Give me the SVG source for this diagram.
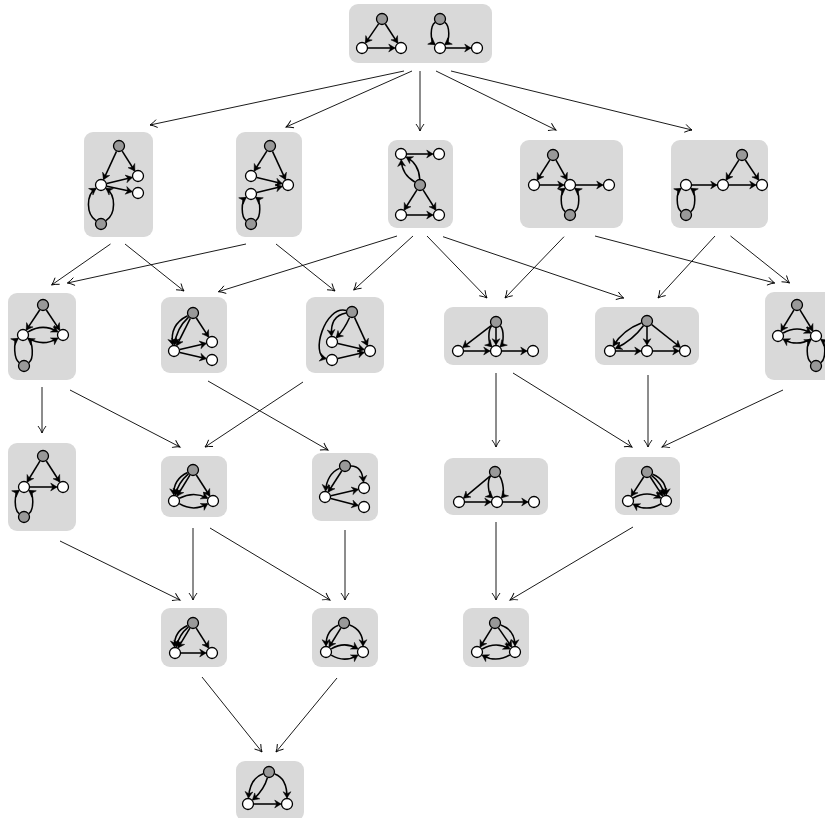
<svg xmlns="http://www.w3.org/2000/svg" width="825" height="818" viewBox="0 0 825 818">
<style>
.box{fill:#d9d9d9}
.e{fill:none;stroke:#000;stroke-width:1.55;marker-end:url(#h)}
.w{fill:#fff;stroke:#000;stroke-width:1.3}
.g{fill:#999;stroke:#000;stroke-width:1.3}
.c{fill:none;stroke:#000;stroke-width:0.9;marker-end:url(#v)}
</style>
<defs>
<marker id="h" markerUnits="userSpaceOnUse" markerWidth="14" markerHeight="14" viewBox="-7 -7 14 14" refX="0" refY="0" orient="auto" overflow="visible"><path d="M0.6,0L-5.8,-3.9L-3.8,0L-5.8,3.9Z" fill="#000" stroke="#000" stroke-width="0.5" stroke-linejoin="round"/></marker>
<marker id="v" markerUnits="userSpaceOnUse" markerWidth="12" markerHeight="12" viewBox="-10 -6 12 12" refX="0" refY="0" orient="auto" overflow="visible"><path d="M-7,-4Q-3,-1 0,0Q-3,1 -7,4" fill="none" stroke="#000" stroke-width="0.9"/></marker>
</defs>
<g id="connectors">
<path class="c" d="M404,71L150,125"/>
<path class="c" d="M412,71L286,127"/>
<path class="c" d="M420,71L420,131"/>
<path class="c" d="M436,71L556,130"/>
<path class="c" d="M451,71L692,130"/>
<path class="c" d="M110.5,244L51.6,285"/>
<path class="c" d="M125,244L184,291"/>
<path class="c" d="M246,244L67.4,283"/>
<path class="c" d="M276,244L335,291"/>
<path class="c" d="M397,236L218.4,291.7"/>
<path class="c" d="M413,236L353.7,290"/>
<path class="c" d="M427,236L487,298"/>
<path class="c" d="M443,236.7L623.7,298"/>
<path class="c" d="M564,236.7L505,298"/>
<path class="c" d="M595,236L774.7,283"/>
<path class="c" d="M715,236L658,298"/>
<path class="c" d="M730.5,236L789.5,283"/>
<path class="c" d="M42,387L42,433"/>
<path class="c" d="M70,390L180,447"/>
<path class="c" d="M303,382L205,447"/>
<path class="c" d="M208,381L328,450"/>
<path class="c" d="M496,373L496,447"/>
<path class="c" d="M513,373L632,447"/>
<path class="c" d="M648,375L648,447"/>
<path class="c" d="M783,390L662,447"/>
<path class="c" d="M60,541L180,600"/>
<path class="c" d="M193,528L193,600"/>
<path class="c" d="M210,528L330,600"/>
<path class="c" d="M345,530L345,600"/>
<path class="c" d="M496,522L496,600"/>
<path class="c" d="M633,527L510,600"/>
<path class="c" d="M202,677L262,752"/>
<path class="c" d="M337,678L276,752"/>
</g>
<g id="n0">
<rect class="box" x="349" y="4" width="143" height="59" rx="9"/>
<path class="e" d="M378.6,23.9L365.7,42.6"/>
<path class="e" d="M385.3,24L397.4,42.6"/>
<path class="e" d="M368,48L394.5,48"/>
<path class="e" d="M435.1,22.4C430,26 430,41 434.7,44.3"/>
<path class="e" d="M444.9,22.4C450,26 450,41 445.3,44.3"/>
<path class="e" d="M446,48L470.5,48"/>
<circle class="g" cx="382" cy="19" r="5.5"/><circle class="w" cx="362" cy="48" r="5.5"/><circle class="w" cx="401" cy="48" r="5.5"/>
<circle class="g" cx="440" cy="19" r="5.5"/><circle class="w" cx="440" cy="48" r="5.5"/><circle class="w" cx="477" cy="48" r="5.5"/>
</g>
<g id="n1a">
<rect class="box" x="84" y="132" width="69" height="105" rx="9"/>
<path class="e" d="M116.5,151.4L103.7,179.1"/>
<path class="e" d="M122.2,151.1L134.5,170.5"/>
<path class="e" d="M106.8,183.6L131.7,177.5"/>
<path class="e" d="M106.9,186.3L131.6,191.6"/>
<path class="e" d="M96,220.7C86,214 86,195 95.6,188.6"/>
<path class="e" d="M106,220.7C116,214 116,195 106.4,188.6"/>
<circle class="g" cx="119" cy="146" r="5.5"/><circle class="w" cx="138" cy="176" r="5.5"/><circle class="w" cx="138" cy="193" r="5.5"/><circle class="w" cx="101" cy="185" r="5.5"/><circle class="g" cx="101" cy="224" r="5.5"/>
</g>
<g id="n1b">
<rect class="box" x="236" y="132" width="66" height="105" rx="9"/>
<path class="e" d="M266.8,151.1L254.5,170.5"/>
<path class="e" d="M272.5,151.4L285.3,179.1"/>
<path class="e" d="M256.8,177.4L281.7,183.5"/>
<path class="e" d="M256.8,192.6L281.7,186.5"/>
<path class="e" d="M246.1,220.6C241,217 241,201 245.7,197.7"/>
<path class="e" d="M255.9,220.6C261,217 261,201 256.3,197.7"/>
<circle class="g" cx="270" cy="146" r="5.5"/><circle class="w" cx="251" cy="176" r="5.5"/><circle class="w" cx="251" cy="194" r="5.5"/><circle class="w" cx="288" cy="185" r="5.5"/><circle class="g" cx="251" cy="224" r="5.5"/>
</g>
<g id="n1c">
<rect class="box" x="388" y="140" width="65" height="88" rx="9"/>
<path class="e" d="M407,154L432.5,154"/>
<path class="e" d="M419.7,179Q419,164.3 406.6,157.2"/>
<path class="e" d="M414.8,182Q402,174.7 401.3,160.5"/>
<path class="e" d="M416.8,190.1L404.5,209.5"/>
<path class="e" d="M423.2,190.1L435.5,209.5"/>
<path class="e" d="M407,215L432.5,215"/>
<circle class="w" cx="401" cy="154" r="5.5"/><circle class="w" cx="439" cy="154" r="5.5"/><circle class="g" cx="420" cy="185" r="5.5"/><circle class="w" cx="401" cy="215" r="5.5"/><circle class="w" cx="439" cy="215" r="5.5"/>
</g>
<g id="n1d">
<rect class="box" x="520" y="140" width="103" height="88" rx="9"/>
<path class="e" d="M549.8,160.1L537.5,179.5"/>
<path class="e" d="M556,160.2L566.8,179.3"/>
<path class="e" d="M540,185L563.5,185"/>
<path class="e" d="M576,185L602.5,185"/>
<path class="e" d="M565.1,211.6C560,208 560,192 564.7,188.7"/>
<path class="e" d="M574.9,211.6C580,208 580,192 575.3,188.7"/>
<circle class="g" cx="553" cy="155" r="5.5"/><circle class="w" cx="534" cy="185" r="5.5"/><circle class="w" cx="570" cy="185" r="5.5"/><circle class="w" cx="609" cy="185" r="5.5"/><circle class="g" cx="570" cy="215" r="5.5"/>
</g>
<g id="n1e">
<rect class="box" x="671" y="140" width="97" height="88" rx="9"/>
<path class="e" d="M738.8,160.1L726.5,179.5"/>
<path class="e" d="M745.3,160L758.4,179.6"/>
<path class="e" d="M692,185L716.5,185"/>
<path class="e" d="M729,185L755.5,185"/>
<path class="e" d="M681.1,211.6C676,208 676,192 680.7,188.7"/>
<path class="e" d="M690.9,211.6C696,208 696,192 691.3,188.7"/>
<circle class="g" cx="742" cy="155" r="5.5"/><circle class="w" cx="686" cy="185" r="5.5"/><circle class="w" cx="723" cy="185" r="5.5"/><circle class="w" cx="762" cy="185" r="5.5"/><circle class="g" cx="686" cy="215" r="5.5"/>
</g>
<g id="n2a">
<rect class="box" x="8" y="293" width="68" height="87" rx="9"/>
<path class="e" d="M39.7,310L26.6,329.6"/>
<path class="e" d="M46.3,310L59.4,329.6"/>
<path class="e" d="M28.1,331.9Q43,323 57.4,331.7"/>
<path class="e" d="M28.1,338.1Q43,347 57.4,338.3"/>
<path class="e" d="M19.1,362.6C14,359 13,342 17.7,338.7"/>
<path class="e" d="M28.9,362.6C34,359 33,342 28.3,338.7"/>
<circle class="g" cx="43" cy="305" r="5.5"/><circle class="w" cx="23" cy="335" r="5.5"/><circle class="w" cx="63" cy="335" r="5.5"/><circle class="g" cx="24" cy="366" r="5.5"/>
</g>
<g id="n2b">
<rect class="box" x="161" y="297" width="66" height="76" rx="9"/>
<path class="e" d="M190.3,318.4L176.9,345.2"/>
<path class="e" d="M188.6,317.1Q176.3,328.4 174.7,344.5"/>
<path class="e" d="M187.6,315.7Q169.2,324.8 172.8,344.6"/>
<path class="e" d="M196.3,318L208.4,336.6"/>
<path class="e" d="M179.8,349.6L205.7,343.5"/>
<path class="e" d="M179.8,352.4L205.7,358.5"/>
<circle class="g" cx="193" cy="313" r="5.5"/><circle class="w" cx="174" cy="351" r="5.5"/><circle class="w" cx="212" cy="342" r="5.5"/><circle class="w" cx="212" cy="360" r="5.5"/>
</g>
<g id="n2c">
<rect class="box" x="306" y="297" width="78" height="76" rx="9"/>
<path class="e" d="M349.6,317.5Q344,330 336.6,337.4"/>
<path class="e" d="M346.1,313.1Q330,316 331.5,335.5"/>
<path class="e" d="M346.2,310.5C325,305 310,355 325.7,358.6"/>
<path class="e" d="M354.5,317.4L367.3,345.1"/>
<path class="e" d="M337.8,343.4L363.7,349.5"/>
<path class="e" d="M337.8,358.6L363.7,352.5"/>
<circle class="g" cx="352" cy="312" r="5.5"/><circle class="w" cx="332" cy="342" r="5.5"/><circle class="w" cx="332" cy="360" r="5.5"/><circle class="w" cx="370" cy="351" r="5.5"/>
</g>
<g id="n2d">
<rect class="box" x="444" y="307" width="104" height="58" rx="9"/>
<path class="e" d="M491.2,325.6L463.2,347.1"/>
<path class="e" d="M496,328L496,344.5"/>
<path class="e" d="M491.5,326C488,330 488,343 491.5,346.5"/>
<path class="e" d="M500.5,326C504,330 504,343 500.5,346.5"/>
<path class="e" d="M464,351L489.5,351"/>
<path class="e" d="M502,351L526.5,351"/>
<circle class="g" cx="496" cy="322" r="5.5"/><circle class="w" cx="458" cy="351" r="5.5"/><circle class="w" cx="496" cy="351" r="5.5"/><circle class="w" cx="533" cy="351" r="5.5"/>
</g>
<g id="n2e">
<rect class="box" x="595" y="307" width="104" height="58" rx="9"/>
<path class="e" d="M641.4,323.1Q623.5,329.8 613.5,345.5"/>
<path class="e" d="M643.4,325.8Q632.3,340.7 615.9,348.3"/>
<path class="e" d="M647,327L647,344.5"/>
<path class="e" d="M651.7,324.7L679.9,347"/>
<path class="e" d="M616,351L640.5,351"/>
<path class="e" d="M653,351L678.5,351"/>
<circle class="g" cx="647" cy="321" r="5.5"/><circle class="w" cx="610" cy="351" r="5.5"/><circle class="w" cx="647" cy="351" r="5.5"/><circle class="w" cx="685" cy="351" r="5.5"/>
</g>
<g id="n2f">
<rect class="box" x="765" y="292" width="70" height="88" rx="9"/>
<path class="e" d="M793.9,310.1L781.4,330.5"/>
<path class="e" d="M800.1,310.1L812.6,330.5"/>
<path class="e" d="M783.2,333Q797,325 810.4,332.8"/>
<path class="e" d="M810.8,339Q797,347 783.6,339.3"/>
<path class="e" d="M811.1,362.6C806,359 806,343 810.7,339.7"/>
<path class="e" d="M820.9,362.6C826,359 826,343 821.3,339.7"/>
<circle class="g" cx="797" cy="305" r="5.5"/><circle class="w" cx="778" cy="336" r="5.5"/><circle class="w" cx="816" cy="336" r="5.5"/><circle class="g" cx="816" cy="366" r="5.5"/>
</g>
<g id="n3a">
<rect class="box" x="8" y="443" width="68" height="88" rx="9"/>
<path class="e" d="M39.9,461.1L27.4,481.5"/>
<path class="e" d="M46.3,461L59.5,481.5"/>
<path class="e" d="M30,487L56.5,487"/>
<path class="e" d="M19.1,513.6C14,510 14,494 18.7,490.7"/>
<path class="e" d="M28.9,513.6C34,510 34,494 29.3,490.7"/>
<circle class="g" cx="43" cy="456" r="5.5"/><circle class="w" cx="24" cy="487" r="5.5"/><circle class="w" cx="63" cy="487" r="5.5"/><circle class="g" cx="24" cy="517" r="5.5"/>
</g>
<g id="n3b">
<rect class="box" x="161" y="456" width="66" height="61" rx="9"/>
<path class="e" d="M189.9,475.1L177.4,495.5"/>
<path class="e" d="M188.4,473.9Q178.4,482.4 175.5,494.7"/>
<path class="e" d="M187.6,472.5Q173.3,479.2 173.8,494.5"/>
<path class="e" d="M196.3,475L209.5,495.5"/>
<path class="e" d="M179.3,498.3Q193.5,491 207.2,498"/>
<path class="e" d="M179.3,503.7Q193.5,512 207.2,504"/>
<circle class="g" cx="193" cy="470" r="5.5"/><circle class="w" cx="174" cy="501" r="5.5"/><circle class="w" cx="213" cy="501" r="5.5"/>
</g>
<g id="n3c">
<rect class="box" x="312" y="453" width="66" height="68" rx="9"/>
<path class="e" d="M339.5,468.4Q327,474 325.6,490.5"/>
<path class="e" d="M341.7,471L328.5,491.5"/>
<path class="e" d="M351,466Q362,466 363.4,481.5"/>
<path class="e" d="M330.9,495.7L357.7,489.5"/>
<path class="e" d="M330.8,498.5L357.7,505.4"/>
<circle class="g" cx="345" cy="466" r="5.5"/><circle class="w" cx="325" cy="497" r="5.5"/><circle class="w" cx="364" cy="488" r="5.5"/><circle class="w" cx="364" cy="507" r="5.5"/>
</g>
<g id="n3d">
<rect class="box" x="444" y="458" width="104" height="57" rx="9"/>
<path class="e" d="M490.4,475.8L464,497.8"/>
<path class="e" d="M490.5,476C487,481 488,494 492.2,497.5"/>
<path class="e" d="M499.5,476C503,481 505,494 501.8,497.5"/>
<path class="e" d="M465,502L490.5,502"/>
<path class="e" d="M503,502L527.5,502"/>
<circle class="g" cx="495" cy="472" r="5.5"/><circle class="w" cx="459" cy="502" r="5.5"/><circle class="w" cx="497" cy="502" r="5.5"/><circle class="w" cx="534" cy="502" r="5.5"/>
</g>
<g id="n3e">
<rect class="box" x="615" y="457" width="65" height="58" rx="9"/>
<path class="e" d="M643.7,477L631.6,495.6"/>
<path class="e" d="M650.3,477L662.4,495.6"/>
<path class="e" d="M651.8,475.7Q661.5,483.2 664.4,494.7"/>
<path class="e" d="M652.6,474.3Q666.5,479.9 666.2,494.5"/>
<path class="e" d="M633.2,498Q647,490 660.4,497.8"/>
<path class="e" d="M660.8,504Q647,512 633.6,504.3"/>
<circle class="g" cx="647" cy="472" r="5.5"/><circle class="w" cx="628" cy="501" r="5.5"/><circle class="w" cx="666" cy="501" r="5.5"/>
</g>
<g id="n4a">
<rect class="box" x="161" y="608" width="66" height="59" rx="9"/>
<path class="e" d="M189.9,628.1L178.3,647.4"/>
<path class="e" d="M188.4,626.9Q178.9,634.9 176.4,646.6"/>
<path class="e" d="M187.5,625.5Q173.7,631.8 174.6,646.5"/>
<path class="e" d="M196.2,628.1L208.5,647.5"/>
<path class="e" d="M181,653L205.5,653"/>
<circle class="g" cx="193" cy="623" r="5.5"/><circle class="w" cx="175" cy="653" r="5.5"/><circle class="w" cx="212" cy="653" r="5.5"/>
</g>
<g id="n4b">
<rect class="box" x="312" y="608" width="66" height="59" rx="9"/>
<path class="e" d="M338.4,625.2Q326,630 326,645.5"/>
<path class="e" d="M340.8,628.1L329.4,646.5"/>
<path class="e" d="M349.6,625.1Q363,630 363,645.5"/>
<path class="e" d="M331.2,648.9Q344.5,641 357.4,648.7"/>
<path class="e" d="M331.2,655.1Q344.5,663 357.4,655.3"/>
<circle class="g" cx="344" cy="623" r="5.5"/><circle class="w" cx="326" cy="652" r="5.5"/><circle class="w" cx="363" cy="652" r="5.5"/>
</g>
<g id="n4c">
<rect class="box" x="463" y="608" width="66" height="59" rx="9"/>
<path class="e" d="M491.8,628.1L480.4,646.5"/>
<path class="e" d="M500.7,625Q515,630 515,645.5"/>
<path class="e" d="M498.4,627.9L511.3,646.6"/>
<path class="e" d="M482.2,649Q496,641 509.4,648.7"/>
<path class="e" d="M509.8,655Q496,663 482.6,655.3"/>
<circle class="g" cx="495" cy="623" r="5.5"/><circle class="w" cx="477" cy="652" r="5.5"/><circle class="w" cx="515" cy="652" r="5.5"/>
</g>
<g id="n5">
<rect class="box" x="236" y="761" width="68" height="60" rx="9"/>
<path class="e" d="M263.3,773.8Q250,778 248.5,797.5"/>
<path class="e" d="M267.4,777.8Q264,790 252.9,799.7"/>
<path class="e" d="M274.7,773.9Q287,778 287,797.5"/>
<path class="e" d="M254,804L280.5,804"/>
<circle class="g" cx="269" cy="772" r="5.5"/><circle class="w" cx="248" cy="804" r="5.5"/><circle class="w" cx="287" cy="804" r="5.5"/>
</g>
</svg>
